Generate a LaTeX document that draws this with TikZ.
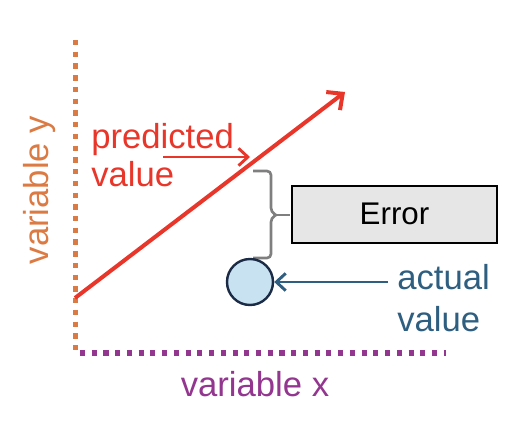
\documentclass[tikz,border=0pt]{standalone}
\usepackage{fontspec}
\setmainfont{Liberation Sans}
\usetikzlibrary{arrows.meta}
\definecolor{axorange}{HTML}{DB7B43}
\definecolor{axpurple}{HTML}{93368F}
\definecolor{predred}{HTML}{E8372A}
\definecolor{actblue}{HTML}{2E5E80}
\definecolor{circfill}{HTML}{C8E2F2}
\definecolor{circdraw}{HTML}{1C2B45}
\definecolor{boxfill}{HTML}{E6E6E6}
\definecolor{bracegray}{HTML}{7F7F7F}
\begin{document}
\begin{tikzpicture}[x=0.75pt,y=-0.75pt,
  lbl/.style={font=\fontsize{26}{31}\selectfont, inner sep=0pt},
  barb/.style={-{Straight Barb[length=7pt,width=13pt]}},
]
\useasboundingbox (0,0) rectangle (512,426);
% axes
\coordinate (ytop) at (75.5,40);
\coordinate (ybot) at (75.5,356);
\coordinate (xl) at (80,353);
\coordinate (xr) at (446,353);
\draw[axorange, line width=4pt, dash pattern=on 4pt off 4.8pt] (ytop) -- (ybot);
\draw[axpurple, line width=3.8pt, dash pattern=on 3.8pt off 5pt] (xl) -- (xr);
\node[lbl, text=axpurple, anchor=base] (xlab) at (255,396) {variable x};
\node[lbl, text=axorange, rotate=90, anchor=base] (ylab) at (48,190) {variable y};
% regression line
\coordinate (rs) at (75,298);
\coordinate (re) at (345,92);
\draw[predred, line width=3pt, -{Straight Barb[length=9pt,width=17pt]}] (rs) -- (re);
% predicted label
\node[lbl, text=predred, anchor=base west] (pred1) at (91,148) {predicted};
\node[lbl, text=predred, anchor=base west] (pred2) at (91,186) {value};
\coordinate (pa) at (163,157);
\coordinate (pb) at (250,157);
\draw[predred, line width=2.2pt, barb] (pa) -- (pb);
% error box
\node[draw=black, line width=1.5pt, fill=boxfill, minimum width=205*0.75pt, minimum height=57*0.75pt, inner sep=0pt, font=\fontsize{23.5}{28}\selectfont] (err) at (394.5,214) {Error};
% brace
\coordinate (bt) at (253,171);
\coordinate (bb) at (253,258);
\coordinate (bm) at (290,215);
\draw[bracegray, line width=2pt, rounded corners=3pt] (bt) -- (271,171) -- (271,212) -- (276,215);
\draw[bracegray, line width=2pt, rounded corners=3pt] (bb) -- (271,258) -- (271,218) -- (276,215);
\draw[bracegray, line width=2pt] (276,215) -- (bm);
% actual value
\node[circle, draw=circdraw, fill=circfill, line width=1.8pt, minimum size=46*0.75pt, inner sep=0pt] (act) at (250,282) {};
\node[lbl, text=actblue, anchor=base west] (act1) at (397,289) {actual};
\node[lbl, text=actblue, anchor=base west] (act2) at (397,331) {value};
\coordinate (aa) at (388,282);
\draw[actblue, line width=2.2pt, barb] (aa) -- (act.east);
\end{tikzpicture}
\end{document}
